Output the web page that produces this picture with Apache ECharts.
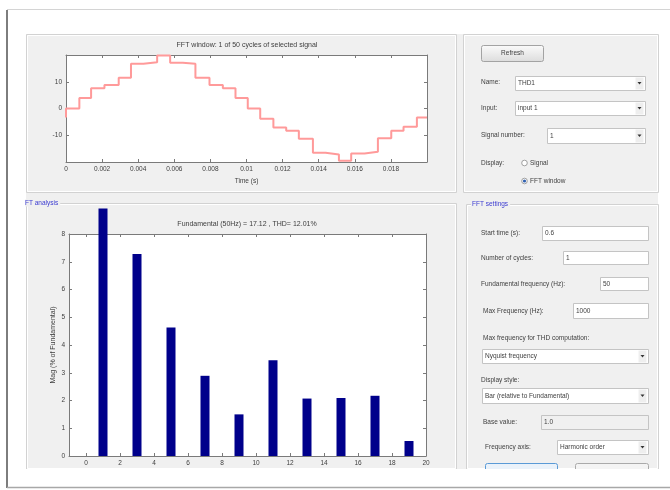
<!DOCTYPE html>
<html><head><meta charset="utf-8">
<script src="https://cdn.jsdelivr.net/npm/echarts@6/dist/echarts.min.js"></script>
<style>html,body{margin:0;padding:0;background:#fff}#c{width:670px;height:490px}</style>
</head><body><div id="c"></div>
<script>
// ---- data ----
const stepTimes = [0, 0, 0.00074, 0.00139, 0.00213, 0.00292, 0.00360, 0.00429, 0.00505, 0.00577, 0.00647, 0.00717, 0.00795, 0.00869, 0.00939, 0.01007, 0.01076, 0.01149, 0.01220, 0.01290, 0.01368, 0.01438, 0.01512, 0.01580, 0.01654, 0.01728, 0.01802, 0.01870, 0.01944, 0.02];
const stepValues = [-3.4, 0, 3.9, 7.6, 8.8, 11.5, 16.7, 17.3, 19.8, 17.1, 16.7, 11.5, 8.8, 7.6, 3.9, 0, -3.8, -7.1, -8.3, -11.3, -16.5, -17.2, -19.5, -16.8, -16.2, -11.1, -8.3, -6.8, -3.4, -3.4];
const harmonicOrders = [1, 3, 5, 7, 9, 11, 13, 15, 17, 19];
const harmonicMags = [8.92, 7.28, 4.63, 2.89, 1.50, 3.45, 2.07, 2.09, 2.17, 0.54];
const timeTicks = [0, 0.002, 0.004, 0.006, 0.008, 0.01, 0.012, 0.014, 0.016, 0.018];
const signalTicks = [-10, 0, 10];
const orderTicks = [0, 2, 4, 6, 8, 10, 12, 14, 16, 18, 20];
const magTicks = [0, 1, 2, 3, 4, 5, 6, 7, 8];
const topTitle = 'FFT window: 1 of 50 cycles of selected signal';
const bottomTitle = 'Fundamental (50Hz) = 17.12 , THD= 12.01%';

const FONT = 'Liberation Sans';
const TXT = '#404040';
const AX = '#7a7a7a';

function axisBox(extra) {
  return Object.assign({
    axisLine: { show: true, onZero: false, lineStyle: { color: AX, width: 1 } },
    axisTick: { show: true, inside: true, length: 3, lineStyle: { color: AX } },
    splitLine: { show: false },
    axisLabel: { show: false }
  }, extra);
}
const lbl = (vals, fmt) => ({ show: true, customValues: vals, fontSize: 6.5, color: TXT, fontFamily: FONT, margin: 4, formatter: fmt });
const tck = (vals) => ({ show: true, inside: true, length: 3, customValues: vals, lineStyle: { color: AX } });

// ---- GUI decoration helpers ----
const g = [];
function text(x, y, s, opt) {
  g.push({ type: 'text', x: x, y: y, z: 20,
    style: Object.assign({ text: s, fontSize: 6.5, fontFamily: FONT, fill: TXT, verticalAlign: 'middle', align: 'left' }, (opt && opt.style) || {}) });
}
function rect(x, y, w, h, fill, stroke, z, r) {
  g.push({ type: 'rect', z: z, shape: { x: x, y: y, width: w, height: h, r: r || 0 }, style: { fill: fill, stroke: stroke || null, lineWidth: 1 } });
}
function line(x1, y1, x2, y2, stroke, w, z) {
  g.push({ type: 'line', z: z || 1, shape: { x1: x1, y1: y1, x2: x2, y2: y2 }, style: { stroke: stroke, lineWidth: w || 1 } });
}
function textbox(x1, x2, y1, y2, s, fill) {
  rect(x1 + 0.5, y1 + 0.5, x2 - x1, y2 - y1, fill || '#ffffff', '#c4c4c4', 10);
  text(x1 + 3, (y1 + y2) / 2 + 0.5, s);
}
function dropdown(x1, x2, y1, y2, s) {
  textbox(x1, x2, y1, y2, s);
  rect(x2 - 9.5, y1 + 1.5, 8, y2 - y1 - 2, '#eeeeee', null, 11);
  g.push({ type: 'polygon', z: 12, shape: { points: [[x2 - 7.5, (y1 + y2) / 2 - 1], [x2 - 3.5, (y1 + y2) / 2 - 1], [x2 - 5.5, (y1 + y2) / 2 + 1.5]] }, style: { fill: '#333' } });
}
function panel(x, y, w, h) {
  rect(x + 0.5, y + 0.5, w, h, null, '#d2d2d2', 2);
  rect(x + 1.5, y + 1.5, w - 2, h - 2, null, '#ffffff', 2);
}

// frame & background
rect(26, 34, 632, 435, '#f0f0f0', null, -10);
line(7, 10, 7, 488, '#7d7d7d', 2, 30);
line(7, 9.5, 670, 9.5, '#d4d4d4', 1, 30);
line(7, 487.5, 670, 487.5, '#a8a8a8', 1.5, 30);

// panels
panel(26, 34, 430, 158);
panel(26, 203, 430, 266);
panel(463, 34, 195, 158);
panel(466, 204, 192, 265);
text(25, 203, 'FT analysis', { style: { fill: '#3a3ad0', backgroundColor: '#f0f0f0', padding: [0, 2, 0, 0] } });
text(471, 204, 'FFT settings', { style: { fill: '#3a3ad0', backgroundColor: '#f0f0f0', padding: [0, 2, 0, 1] } });

// top-right controls
g.push({ type: 'rect', z: 10, shape: { x: 481.5, y: 45.5, width: 62, height: 16, r: 2 },
  style: { fill: new echarts.graphic.LinearGradient(0, 0, 0, 1, [{ offset: 0, color: '#fbfbfb' }, { offset: 1, color: '#dcdcdc' }]), stroke: '#a3a3a3', lineWidth: 1 } });
text(512.5, 53.5, 'Refresh', { style: { align: 'center' } });
text(481, 82, 'Name:');
dropdown(515, 645, 76, 90, 'THD1');
text(481, 108, 'Input:');
dropdown(515, 645, 101, 115, 'input 1');
text(481, 135, 'Signal number:');
dropdown(547, 645, 128, 143, '1');
text(481, 163, 'Display:');
g.push({ type: 'circle', z: 10, shape: { cx: 524.5, cy: 163, r: 2.8 }, style: { fill: '#fff', stroke: '#8a8a8a', lineWidth: 0.8 } });
text(530, 163, 'Signal');
g.push({ type: 'circle', z: 10, shape: { cx: 524.5, cy: 181, r: 2.8 }, style: { fill: '#fff', stroke: '#8a8a8a', lineWidth: 0.8 } });
g.push({ type: 'circle', z: 11, shape: { cx: 524.5, cy: 181, r: 1.6 }, style: { fill: '#2e5fb0' } });
text(530, 181, 'FFT window');

// FFT settings controls
text(481, 233, 'Start time (s):');
textbox(542, 648, 226, 240, '0.6');
text(481, 258, 'Number of cycles:');
textbox(563, 648, 251, 264, '1');
text(481, 284, 'Fundamental frequency (Hz):');
textbox(600, 648, 277, 290, '50');
text(483, 311, 'Max Frequency (Hz):');
textbox(573, 648, 303, 318, '1000');
text(483, 338, 'Max frequency for THD computation:');
dropdown(482, 648, 349, 363, 'Nyquist frequency');
text(481, 380, 'Display style:');
dropdown(482, 648, 388, 403, 'Bar (relative to Fundamental)');
text(483, 422, 'Base value:');
textbox(541, 648, 415, 429, '1.0', '#f0f0f0');
text(485, 447, 'Frequency axis:');
dropdown(557, 648, 440, 454, 'Harmonic order');
rect(485.5, 463.5, 72, 14, '#eaf2fa', '#5a9ad6', 10, 2);
rect(575.5, 463.5, 73, 14, '#f4f4f4', '#aaaaaa', 10, 2);
rect(8, 469, 662, 17.5, '#ffffff', null, 25);

// plot titles
text(247, 45, topTitle, { style: { align: 'center', fontSize: 7 } });
text(247, 224, bottomTitle, { style: { align: 'center', fontSize: 7 } });

const chart = echarts.init(document.getElementById('c'), null, { renderer: 'canvas' });
chart.setOption({
  animation: false,
  backgroundColor: 'transparent',
  graphic: { elements: g },
  grid: [
    { left: 66, top: 55, width: 361, height: 107, show: true, backgroundColor: '#ffffff', borderWidth: 0 },
    { left: 69, top: 234, width: 357, height: 222, show: true, backgroundColor: '#ffffff', borderWidth: 0 }
  ],
  xAxis: [
    axisBox({ type: 'value', gridIndex: 0, position: 'bottom', min: 0, max: 0.02,
      axisLabel: lbl(timeTicks, v => v === 0 ? '0' : String(+v.toFixed(3))), axisTick: tck(timeTicks),
      name: 'Time (s)', nameLocation: 'middle', nameGap: 16, nameMoveOverlap: false,
      nameTextStyle: { fontSize: 6.5, color: TXT, fontFamily: FONT } }),
    axisBox({ type: 'value', gridIndex: 0, position: 'top', min: 0, max: 0.02, axisTick: tck(timeTicks) }),
    axisBox({ type: 'value', gridIndex: 1, position: 'bottom', min: -1, max: 20,
      axisLabel: lbl(orderTicks, v => String(v)), axisTick: tck(orderTicks) }),
    axisBox({ type: 'value', gridIndex: 1, position: 'top', min: -1, max: 20, axisTick: tck(orderTicks) })
  ],
  yAxis: [
    axisBox({ type: 'value', gridIndex: 0, position: 'left', min: -20, max: 20,
      axisLabel: lbl(signalTicks, v => String(v)), axisTick: tck(signalTicks) }),
    axisBox({ type: 'value', gridIndex: 0, position: 'right', min: -20, max: 20, axisTick: tck(signalTicks) }),
    axisBox({ type: 'value', gridIndex: 1, position: 'left', min: 0, max: 8,
      axisLabel: lbl(magTicks, v => String(v)), axisTick: tck(magTicks),
      name: 'Mag (% of Fundamental)', nameLocation: 'middle', nameGap: 12, nameRotate: 90, nameMoveOverlap: false,
      nameTextStyle: { fontSize: 7, color: TXT, fontFamily: FONT } }),
    axisBox({ type: 'value', gridIndex: 1, position: 'right', min: 0, max: 8, axisTick: tck(magTicks) })
  ],
  series: [
    { type: 'line', xAxisIndex: 0, yAxisIndex: 0, step: 'end', showSymbol: false, symbol: 'none', clip: false,
      data: stepTimes.map((t, i) => [t, stepValues[i]]),
      lineStyle: { color: '#ff9a9a', width: 2 } },
    { type: 'bar', xAxisIndex: 2, yAxisIndex: 2, barWidth: 9, clip: false,
      data: harmonicOrders.map((o, i) => [o, harmonicMags[i]]),
      itemStyle: { color: '#00008b' } }
  ]
});
</script></body></html>
